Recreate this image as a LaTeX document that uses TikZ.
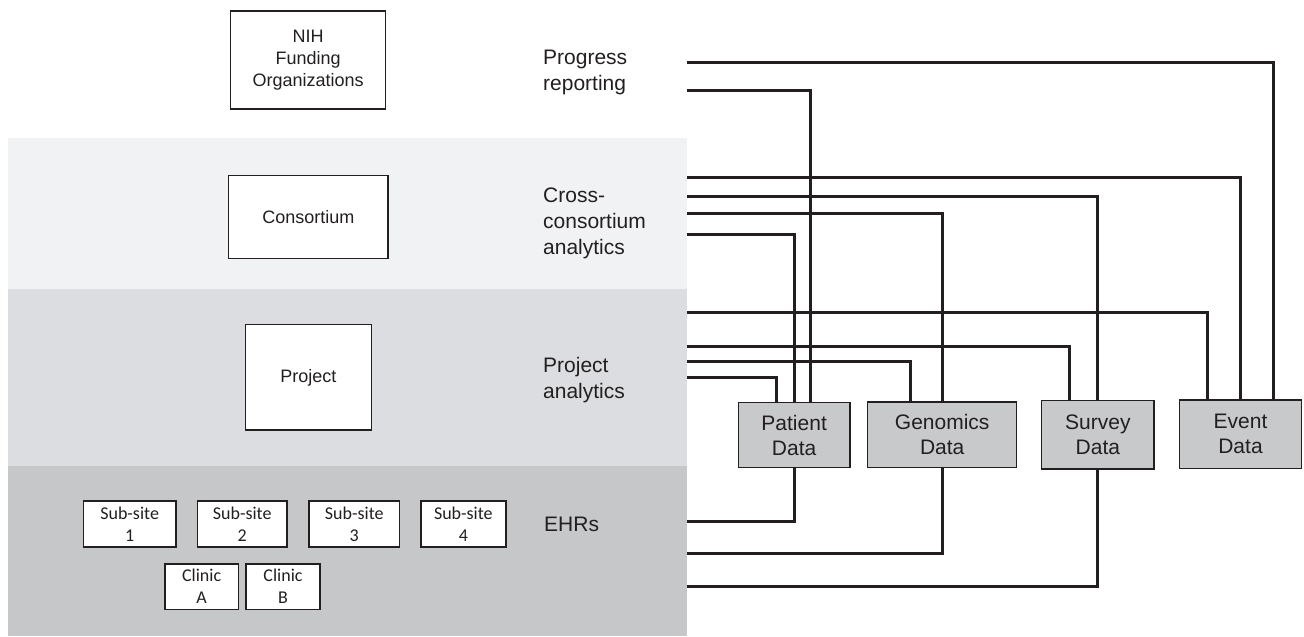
\documentclass[tikz,border=0pt]{standalone}
\usepackage{fontspec}
\setmainfont{Liberation Sans}
\newfontfamily\sitefont{Carlito}
\definecolor{ink}{HTML}{231F20}
\definecolor{bandA}{HTML}{F1F2F4}
\definecolor{bandB}{HTML}{DCDDE0}
\definecolor{bandC}{HTML}{C6C7C9}
\definecolor{datafill}{HTML}{C8C9CB}
\begin{document}
\begin{tikzpicture}[x=1pt,y=-1pt,
  orgbox/.style={draw=ink, line width=1.5pt, fill=white, inner sep=0pt,
    align=center, text=ink, font=\fontsize{18}{22}\selectfont},
  sitebox/.style={draw=ink, line width=1.6pt, fill=white, inner sep=0pt,
    align=center, text=ink, font=\sitefont\fontsize{18}{22}\selectfont,
    minimum height=45.7pt},
  databox/.style={draw=ink, line width=1.5pt, fill=datafill, inner sep=0pt,
    align=center, text=ink, font=\fontsize{21}{25}\selectfont},
  lvl/.style={anchor=base west, inner sep=0pt, text=ink,
    font=\fontsize{21}{26}\selectfont},
  wire/.style={draw=ink, line width=3pt}]
\useasboundingbox (0,0) rectangle (1304,637);

% level bands
\fill[bandA] (8,138) rectangle (686.7,289);
\fill[bandB] (8,289) rectangle (686.7,466);
\fill[bandC] (8,466) rectangle (686.7,636);

% organisation levels
\node[orgbox, minimum width=155pt, minimum height=98pt] (nih) at (308.2,60)
  {NIH\\Funding\\Organizations};
\node[orgbox, minimum width=159.3pt, minimum height=82.6pt] (cons) at (308.35,217)
  {Consortium};
\node[orgbox, minimum width=126pt, minimum height=105.3pt] (proj) at (308.3,377.35)
  {Project};

\node[sitebox, minimum width=92.7pt] (s1) at (129.65,523.85) {Sub-site\\1};
\node[sitebox, minimum width=89.7pt] (s2) at (242.2,523.85) {Sub-site\\2};
\node[sitebox, minimum width=90.7pt] (s3) at (354.25,523.85) {Sub-site\\3};
\node[sitebox, minimum width=85.3pt] (s4) at (463.35,523.85) {Sub-site\\4};
\node[sitebox, minimum width=73.3pt, minimum height=45.3pt] (ca) at (201.65,586.65) {Clinic\\A};
\node[sitebox, minimum width=74pt, minimum height=45.3pt] (cb) at (283,586.65) {Clinic\\B};

% level labels
\node[lvl] (lprog) at (543,64)
  {\begin{tabular}[t]{@{}l@{}}Progress\\reporting\end{tabular}};
\node[lvl] (lcross) at (543,202)
  {\begin{tabular}[t]{@{}l@{}}Cross-\\consortium\\analytics\end{tabular}};
\node[lvl] (lproj) at (543,372.7)
  {\begin{tabular}[t]{@{}l@{}}Project\\analytics\end{tabular}};
\node[lvl] (lehr) at (544,531.7) {EHRs};

% data sources
\node[databox, minimum width=111.7pt, minimum height=64.6pt] (pat) at (794.15,435)
  {Patient\\Data};
\node[databox, minimum width=149pt, minimum height=65.3pt] (gen) at (942.2,434.65)
  {Genomics\\Data};
\node[databox, minimum width=112.3pt, minimum height=68.3pt] (sur) at (1097.85,434.85)
  {Survey\\Data};
\node[databox, minimum width=122.4pt, minimum height=68.3pt] (evt) at (1240.5,434.15)
  {Event\\Data};

% wire start points at the band edge
\coordinate (w1) at (687,62.3);
\coordinate (w2) at (687,90);
\coordinate (w3) at (687,177.7);
\coordinate (w4) at (687,196.7);
\coordinate (w5) at (687,213.3);
\coordinate (w6) at (687,234);
\coordinate (w7) at (687,312.7);
\coordinate (w8) at (687,346.7);
\coordinate (w9) at (687,361.7);
\coordinate (w10) at (687,377.7);
\coordinate (b1) at (687,521.7);
\coordinate (b2) at (687,553.5);
\coordinate (b3) at (687,586.3);

% progress reporting
\draw[wire] (w1) -| ([xshift=33pt]evt.north);
\draw[wire] (w2) -| ([xshift=16pt]pat.north);
% cross-consortium analytics
\draw[wire] (w3) -| (evt.north);
\draw[wire] (w4) -| (sur.north);
\draw[wire] (w5) -| (gen.north);
\draw[wire] (w6) -| (pat.north);
% project analytics
\draw[wire] (w7) -| ([xshift=-33pt]evt.north);
\draw[wire] (w8) -| ([xshift=-28.5pt]sur.north);
\draw[wire] (w9) -| ([xshift=-32pt]gen.north);
\draw[wire] (w10) -| ([xshift=-17.5pt]pat.north);
% EHR feeds
\draw[wire] (pat.south) |- (b1);
\draw[wire] (gen.south) |- (b2);
\draw[wire] (sur.south) |- (b3);
\end{tikzpicture}
\end{document}
